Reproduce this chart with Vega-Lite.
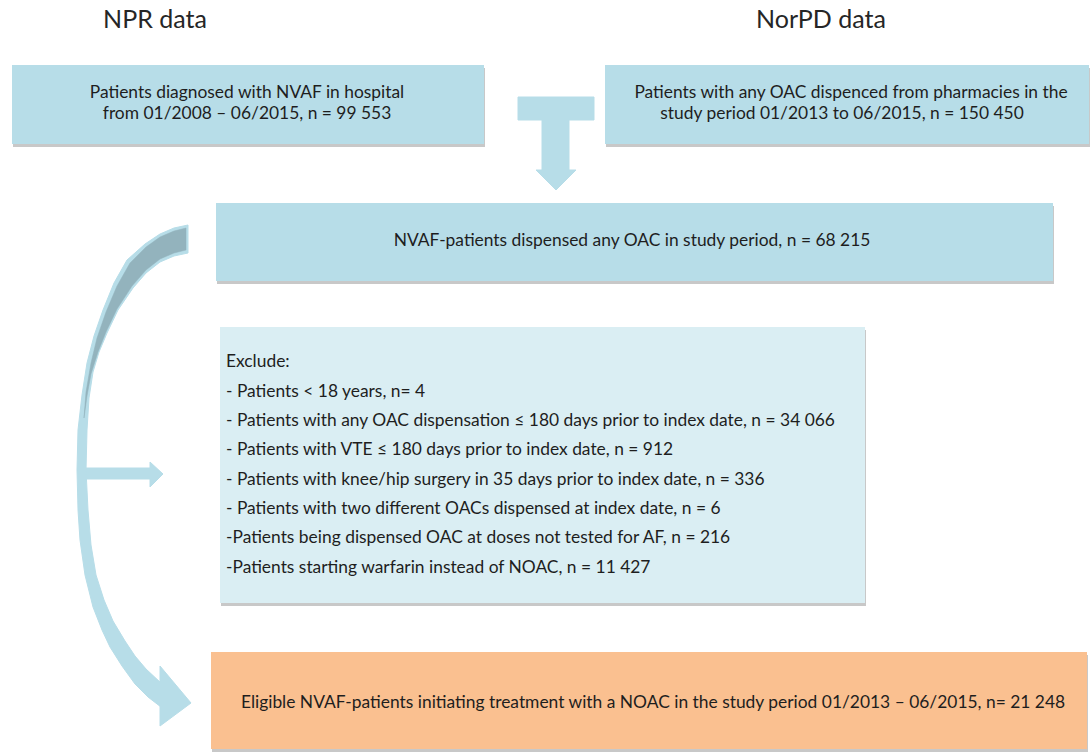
{
  "$schema": "https://vega.github.io/schema/vega-lite/v6.json",
  "width": 1090,
  "height": 752,
  "autosize": {"type": "fit", "contains": "padding"},
  "padding": 0,
  "background": "white",
  "config": {"view": {"stroke": null}},
  "datasets": {
    "boxes": [
      {"id": "npr", "kind": "main", "x": 12, "x2": 484, "y": 65, "y2": 144},
      {"id": "norpd", "kind": "main", "x": 605, "x2": 1089, "y": 65, "y2": 144},
      {"id": "nvaf", "kind": "main", "x": 216, "x2": 1053, "y": 203, "y2": 281},
      {"id": "excl", "kind": "exclude", "x": 220, "x2": 865, "y": 327, "y2": 603},
      {"id": "elig", "kind": "result", "x": 211, "x2": 1087, "y": 652, "y2": 749}
    ],
    "polys": [
      {"shape": "T", "i": 0, "x": 518, "y": 97},
      {"shape": "T", "i": 1, "x": 594, "y": 97},
      {"shape": "T", "i": 2, "x": 594, "y": 120},
      {"shape": "T", "i": 3, "x": 569, "y": 120},
      {"shape": "T", "i": 4, "x": 569, "y": 170},
      {"shape": "T", "i": 5, "x": 576, "y": 170},
      {"shape": "T", "i": 6, "x": 556, "y": 190},
      {"shape": "T", "i": 7, "x": 536, "y": 170},
      {"shape": "T", "i": 8, "x": 542, "y": 170},
      {"shape": "T", "i": 9, "x": 542, "y": 120},
      {"shape": "T", "i": 10, "x": 518, "y": 120},
      {"shape": "T", "i": 11, "x": 518, "y": 97},
      {"shape": "H", "i": 0, "x": 80, "y": 468},
      {"shape": "H", "i": 1, "x": 150, "y": 468},
      {"shape": "H", "i": 2, "x": 150, "y": 462},
      {"shape": "H", "i": 3, "x": 163, "y": 474},
      {"shape": "H", "i": 4, "x": 150, "y": 487},
      {"shape": "H", "i": 5, "x": 150, "y": 479},
      {"shape": "H", "i": 6, "x": 80, "y": 479},
      {"shape": "H", "i": 7, "x": 80, "y": 468},
      {"shape": "C", "i": 0, "x": 160, "y": 666},
      {"shape": "C", "i": 1, "x": 191, "y": 703},
      {"shape": "C", "i": 2, "x": 160, "y": 726},
      {"shape": "C", "i": 3, "x": 160, "y": 666},
      {"shape": "B", "i": 0, "x": 188, "y": 225},
      {"shape": "B", "i": 1, "x": 174, "y": 228},
      {"shape": "B", "i": 2, "x": 160, "y": 234},
      {"shape": "B", "i": 3, "x": 145, "y": 244},
      {"shape": "B", "i": 4, "x": 127, "y": 260},
      {"shape": "B", "i": 5, "x": 114, "y": 283},
      {"shape": "B", "i": 6, "x": 103, "y": 310},
      {"shape": "B", "i": 7, "x": 94, "y": 336},
      {"shape": "B", "i": 8, "x": 87, "y": 363},
      {"shape": "B", "i": 9, "x": 82, "y": 395},
      {"shape": "B", "i": 10, "x": 78, "y": 430},
      {"shape": "B", "i": 11, "x": 77, "y": 470},
      {"shape": "B", "i": 12, "x": 78, "y": 510},
      {"shape": "B", "i": 13, "x": 80, "y": 540},
      {"shape": "B", "i": 14, "x": 85, "y": 575},
      {"shape": "B", "i": 15, "x": 93, "y": 607},
      {"shape": "B", "i": 16, "x": 102, "y": 630},
      {"shape": "B", "i": 17, "x": 110, "y": 647},
      {"shape": "B", "i": 18, "x": 122, "y": 666},
      {"shape": "B", "i": 19, "x": 135, "y": 684},
      {"shape": "B", "i": 20, "x": 148, "y": 697},
      {"shape": "B", "i": 21, "x": 161, "y": 707},
      {"shape": "B", "i": 22, "x": 161, "y": 683},
      {"shape": "B", "i": 23, "x": 146, "y": 669},
      {"shape": "B", "i": 24, "x": 135, "y": 656},
      {"shape": "B", "i": 25, "x": 125, "y": 641},
      {"shape": "B", "i": 26, "x": 113, "y": 621},
      {"shape": "B", "i": 27, "x": 104, "y": 600},
      {"shape": "B", "i": 28, "x": 96, "y": 575},
      {"shape": "B", "i": 29, "x": 91, "y": 545},
      {"shape": "B", "i": 30, "x": 88, "y": 510},
      {"shape": "B", "i": 31, "x": 86, "y": 470},
      {"shape": "B", "i": 32, "x": 87, "y": 430},
      {"shape": "B", "i": 33, "x": 89, "y": 398},
      {"shape": "B", "i": 34, "x": 93, "y": 372},
      {"shape": "B", "i": 35, "x": 99, "y": 352},
      {"shape": "B", "i": 36, "x": 107, "y": 333},
      {"shape": "B", "i": 37, "x": 118, "y": 310},
      {"shape": "B", "i": 38, "x": 133, "y": 288},
      {"shape": "B", "i": 39, "x": 146, "y": 273},
      {"shape": "B", "i": 40, "x": 160, "y": 262},
      {"shape": "B", "i": 41, "x": 174, "y": 256},
      {"shape": "B", "i": 42, "x": 188, "y": 253},
      {"shape": "B", "i": 43, "x": 188, "y": 225}
    ],
    "darkpoly": [
      {"i": 0, "x": 186, "y": 228},
      {"i": 1, "x": 174, "y": 231},
      {"i": 2, "x": 160, "y": 237},
      {"i": 3, "x": 146, "y": 247},
      {"i": 4, "x": 130, "y": 263},
      {"i": 5, "x": 117, "y": 286},
      {"i": 6, "x": 106, "y": 312},
      {"i": 7, "x": 97, "y": 338},
      {"i": 8, "x": 91, "y": 363},
      {"i": 9, "x": 86, "y": 392},
      {"i": 10, "x": 84, "y": 418},
      {"i": 11, "x": 87, "y": 396},
      {"i": 12, "x": 91, "y": 374},
      {"i": 13, "x": 98, "y": 352},
      {"i": 14, "x": 106, "y": 332},
      {"i": 15, "x": 117, "y": 309},
      {"i": 16, "x": 132, "y": 286},
      {"i": 17, "x": 146, "y": 270},
      {"i": 18, "x": 160, "y": 259},
      {"i": 19, "x": 174, "y": 253},
      {"i": 20, "x": 186, "y": 250},
      {"i": 21, "x": 186, "y": 228}
    ],
    "headers": [
      {"text": "NPR data", "x": 155, "y": 20},
      {"text": "NorPD data", "x": 821, "y": 20}
    ],
    "centered": [
      {"text": "Patients diagnosed with NVAF in hospital", "x": 247, "y": 93},
      {"text": "from 01/2008 \u2013 06/2015,  n = 99 553", "x": 247, "y": 114},
      {"text": "Patients with any OAC dispenced from pharmacies in the", "x": 851, "y": 93},
      {"text": "study period 01/2013  to 06/2015,  n = 150 450", "x": 842, "y": 114},
      {"text": "NVAF-patients dispensed any OAC in study period, n = 68 215", "x": 632, "y": 241},
      {"text": "Eligible NVAF-patients initiating treatment with a NOAC in the study period 01/2013 \u2013 06/2015, n= 21 248", "x": 653, "y": 703}
    ],
    "lefttext": [
      {"text": "Exclude:", "x": 226, "y": 362},
      {"text": "- Patients < 18 years, n= 4", "x": 226, "y": 392},
      {"text": "- Patients with any OAC dispensation \u2264 180 days prior to index date, n = 34 066", "x": 226, "y": 421},
      {"text": "- Patients with VTE \u2264 180  days prior to index date, n = 912", "x": 226, "y": 450},
      {"text": "- Patients with knee/hip surgery in 35 days prior to index date, n = 336", "x": 226, "y": 480},
      {"text": "- Patients with two different OACs dispensed at index date, n = 6", "x": 226, "y": 509},
      {"text": "-Patients being dispensed OAC at doses not tested for AF, n = 216", "x": 226, "y": 538},
      {"text": "-Patients starting warfarin instead of NOAC, n = 11 427", "x": 226, "y": 568}
    ]
  },
  "encoding": {
    "x": {"field": "x", "type": "quantitative", "scale": {"domain": [0, 1090], "nice": false, "zero": false}, "axis": null},
    "y": {"field": "y", "type": "quantitative", "scale": {"domain": [0, 752], "nice": false, "zero": false, "reverse": true}, "axis": null}
  },
  "layer": [
    {
      "data": {"name": "boxes"},
      "mark": {"type": "rect", "color": "#9a9a9a", "opacity": 0.55, "xOffset": 1, "x2Offset": 1, "yOffset": 3, "y2Offset": 3},
      "encoding": {"x2": {"field": "x2"}, "y2": {"field": "y2"}}
    },
    {
      "data": {"name": "boxes"},
      "mark": {"type": "rect"},
      "encoding": {
        "x2": {"field": "x2"},
        "y2": {"field": "y2"},
        "color": {"field": "kind", "type": "nominal", "scale": {"domain": ["main", "exclude", "result"], "range": ["#b7dde8", "#daeef3", "#fac090"]}, "legend": null}
      }
    },
    {
      "data": {"name": "polys"},
      "mark": {"type": "line", "fill": "#b7dde8", "stroke": "#b7dde8", "strokeWidth": 1},
      "encoding": {"order": {"field": "i", "type": "quantitative"}, "detail": {"field": "shape", "type": "nominal"}}
    },
    {
      "data": {"name": "darkpoly"},
      "mark": {"type": "line", "fill": "#93b3bd", "stroke": "#93b3bd", "strokeWidth": 0.5},
      "encoding": {"order": {"field": "i", "type": "quantitative"}}
    },
    {
      "data": {"name": "headers"},
      "mark": {"type": "text", "font": "Lato", "fontSize": 25, "color": "#262626", "align": "center", "baseline": "middle"},
      "encoding": {"text": {"field": "text"}}
    },
    {
      "data": {"name": "centered"},
      "mark": {"type": "text", "font": "Lato", "fontSize": 17.4, "color": "#1e1e1e", "align": "center", "baseline": "middle"},
      "encoding": {"text": {"field": "text"}}
    },
    {
      "data": {"name": "lefttext"},
      "mark": {"type": "text", "font": "Lato", "fontSize": 17.4, "color": "#1e1e1e", "align": "left", "baseline": "middle"},
      "encoding": {"text": {"field": "text"}}
    }
  ]
}
